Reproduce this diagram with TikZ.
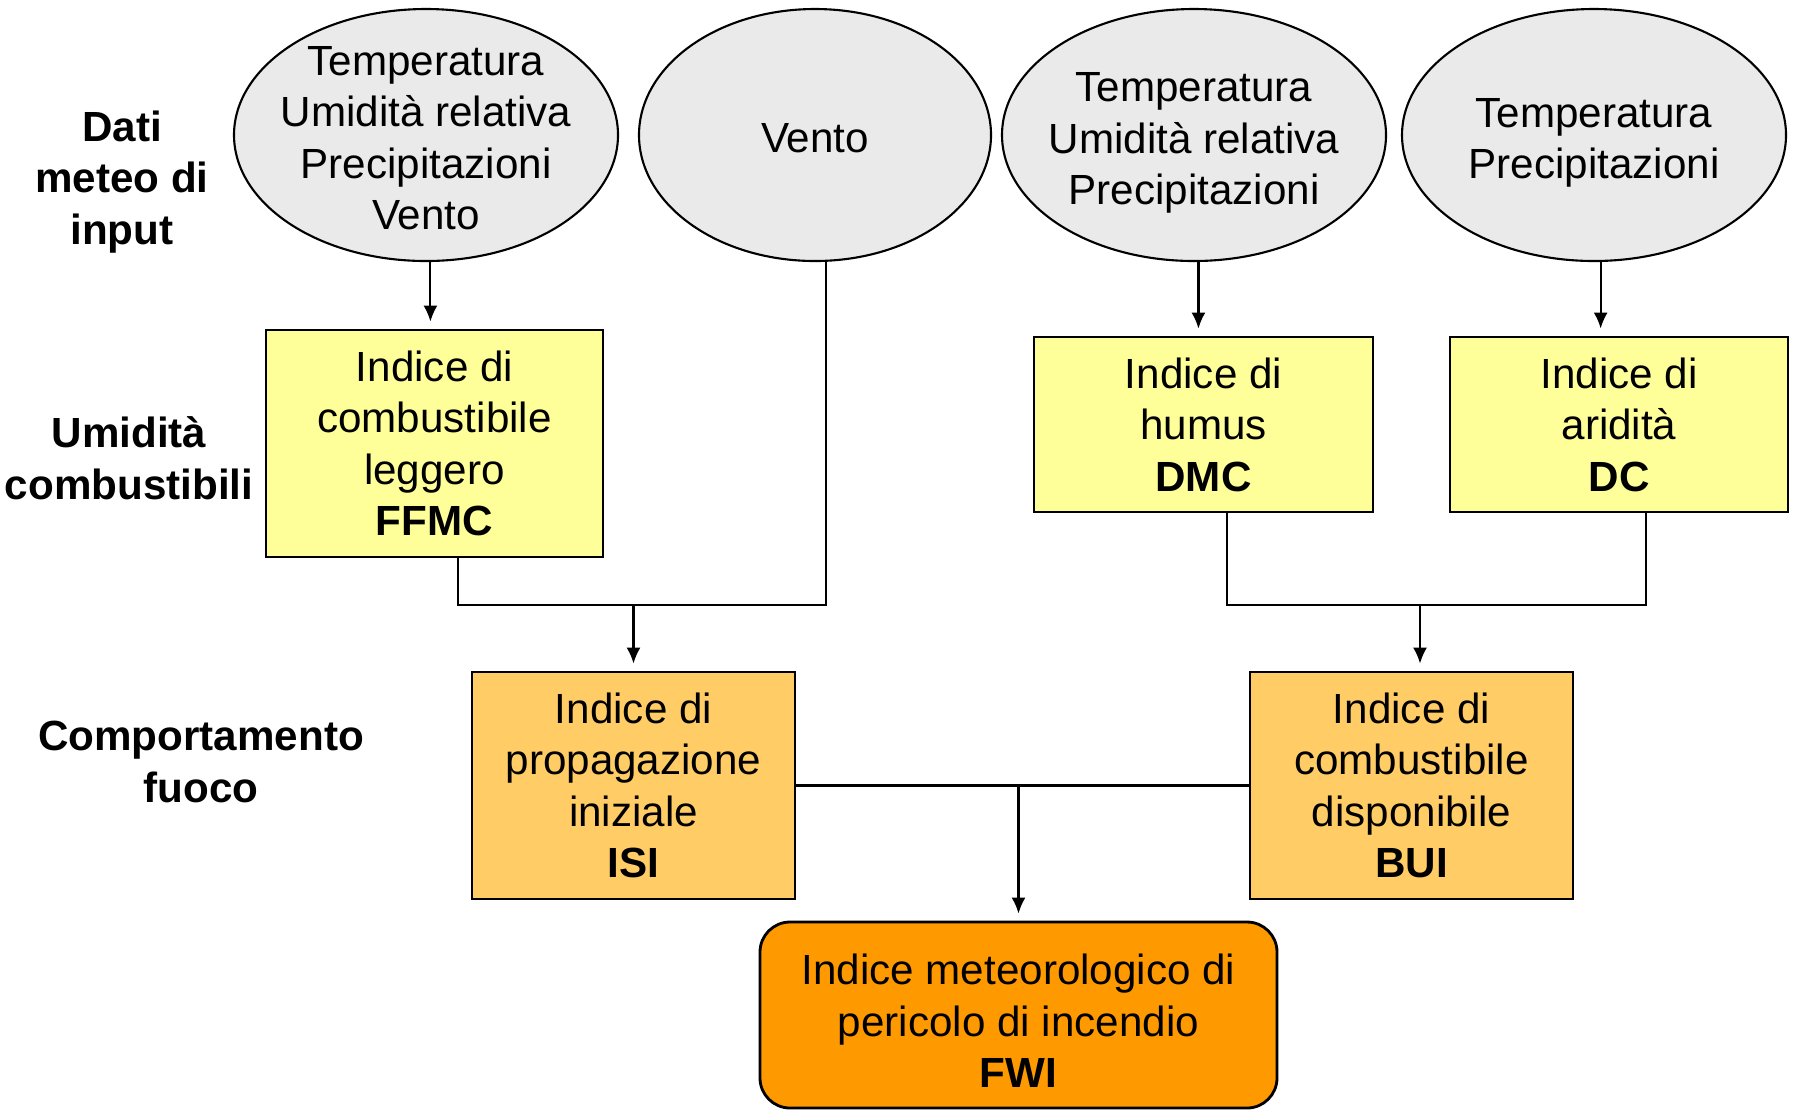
\documentclass[tikz,border=0pt]{standalone}
\usepackage{fontspec}
\setmainfont{Liberation Sans}
\usetikzlibrary{arrows.meta,calc,shapes.geometric}
\definecolor{meteogray}{HTML}{EAEAEA}
\definecolor{umidyellow}{HTML}{FFFF99}
\definecolor{fuocolight}{HTML}{FFCC66}
\definecolor{fwiorange}{HTML}{FF9900}
\tikzset{
	dati/.style={ellipse, draw, line width=0.6pt, fill=meteogray, inner sep=0pt, minimum width=3.84cm, minimum height=2.52cm},
	dtext/.style={align=center, font=\fontsize{12}{14.65}\selectfont, yshift=-0.03cm},
	indice/.style={rectangle, draw, line width=0.8pt, inner sep=0pt, align=center, font=\fontsize{12}{14.65}\selectfont},
	riga/.style={line width=0.6pt},
	freccia/.style={riga, -{Latex[length=1.6mm,width=1.4mm]}, shorten >=0.07cm},
	livello/.style={align=center, font=\fontsize{12}{14.65}\selectfont\bfseries}
}

\begin{document}
\begin{tikzpicture}
			%%%%% START %%%%%
			
			\useasboundingbox (0, 0) rectangle (17.93, -11.10);
			
			\node[livello] (lvdati) at (1.22, -1.82) {Dati\\meteo di\\input};
			\node[livello] (lvumid) at (1.29, -4.58) {Umidità\\combustibili};
			\node[livello] (lvfuoco) at (2.01, -7.62) {Comportamento\\fuoco};
			
			\node[dati, label={[dtext]center:{Temperatura\\Umidità relativa\\Precipitazioni\\Vento}}] (meteoffmc) at (4.26, -1.35) {};
			\node[dati, minimum width=3.52cm, label={[dtext]center:{Vento}}] (vento) at (8.15, -1.35) {};
			\node[dati, label={[dtext, yshift=-0.05cm]center:{Temperatura\\Umidità relativa\\Precipitazioni}}] (meteodmc) at (11.94, -1.35) {};
			\node[dati, label={[dtext, yshift=-0.05cm]center:{Temperatura\\Precipitazioni}}] (meteodc) at (15.94, -1.35) {};
			
			\node[indice, fill=umidyellow, minimum width=3.37cm, minimum height=2.27cm] (ffmc) at (4.345, -4.435) {Indice di\\combustibile\\leggero\\\textbf{FFMC}};
			\node[indice, fill=umidyellow, minimum width=3.39cm, minimum height=1.75cm] (dmc) at (12.035, -4.245) {Indice di\\humus\\\textbf{DMC}};
			\node[indice, fill=umidyellow, minimum width=3.38cm, minimum height=1.75cm] (dc) at (16.19, -4.245) {Indice di\\aridità\\\textbf{DC}};
			
			\node[indice, fill=fuocolight, minimum width=3.23cm, minimum height=2.27cm] (isi) at (6.335, -7.855) {Indice di\\propagazione\\iniziale\\\textbf{ISI}};
			\node[indice, fill=fuocolight, minimum width=3.23cm, minimum height=2.27cm] (bui) at (14.115, -7.855) {Indice di\\combustibile\\disponibile\\\textbf{BUI}};
			
			\node[indice, fill=fwiorange, rounded corners=0.3cm, minimum width=5.17cm, minimum height=1.86cm] (fwi) at (10.185, -10.15) {\rule{0pt}{0.42cm}Indice meteorologico di\\pericolo di incendio\\\textbf{FWI}};
			
			\coordinate (jisi) at (6.335, -6.05);
			\coordinate (jbui) at (14.20, -6.05);
			\coordinate (jfwi) at (isi.east -| fwi.north);
			
			\draw[freccia] (meteoffmc.-88) -- (meteoffmc.-88 |- ffmc.north);
			\draw[freccia] (meteodmc.-88) -- (meteodmc.-88 |- dmc.north);
			\draw[freccia] (meteodc.-87) -- (meteodc.-87 |- dc.north);
			
			\draw[riga] ($(ffmc.south)+(0.235,0)$) |- (jisi) -| (vento.-85);
			\draw[freccia] (jisi) -- (jisi |- isi.north);
			
			\draw[riga] ($(dmc.south)+(0.235,0)$) |- (jbui) -| ($(dc.south)+(0.27,0)$);
			\draw[freccia] (jbui) -- (jbui |- bui.north);
			
			\draw[riga] (isi.east) -- (bui.west);
			\draw[freccia] (jfwi) -- (fwi.north);
			
			%%%%% END %%%%%
\end{tikzpicture}
\end{document}
